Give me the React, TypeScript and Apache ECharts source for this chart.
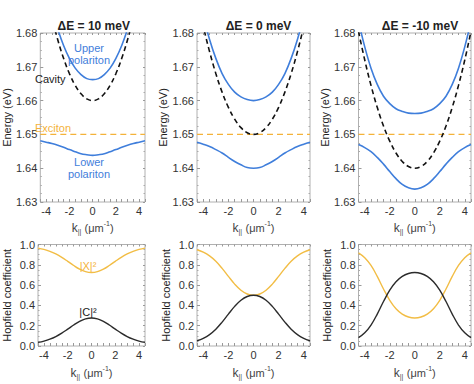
import React, { useEffect, useRef } from 'react';
import * as echarts from 'echarts';

// wavevector k|| (µm^-1)
const kValues = [-4.5, -4, -3.5, -3, -2.5, -2, -1.5, -1, -0.5, 0, 0.5, 1, 1.5, 2, 2.5, 3, 3.5, 4, 4.5];

const panelTitles = ['ΔE = 10 meV', 'ΔE = 0 meV', 'ΔE = -10 meV'];
const excitonEnergy = 1.65;
const xTickLabels = [-4, -2, 0, 2, 4];

// ΔE = 10 meV
const upper10 = [1.7024, 1.6943, 1.6872, 1.6812, 1.6763, 1.6725, 1.6696, 1.6677, 1.6665, 1.6662, 1.6665, 1.6677, 1.6696, 1.6725, 1.6763, 1.6812, 1.6872, 1.6943, 1.7024];
const lower10 = [1.6481, 1.6477, 1.6473, 1.6468, 1.6462, 1.6455, 1.6449, 1.6443, 1.6440, 1.6438, 1.6440, 1.6443, 1.6449, 1.6455, 1.6462, 1.6468, 1.6473, 1.6477, 1.6481];
const cavity10 = [1.7005, 1.692, 1.6845, 1.678, 1.6725, 1.668, 1.6645, 1.662, 1.6605, 1.660, 1.6605, 1.662, 1.6645, 1.668, 1.6725, 1.678, 1.6845, 1.692, 1.7005];
const excitonFrac10 = [0.9649, 0.9514, 0.9326, 0.9069, 0.8737, 0.8345, 0.7935, 0.7572, 0.7324, 0.7236, 0.7324, 0.7572, 0.7935, 0.8345, 0.8737, 0.9069, 0.9326, 0.9514, 0.9649];
const photonFrac10 = [0.0351, 0.0486, 0.0674, 0.0931, 0.1263, 0.1655, 0.2065, 0.2428, 0.2676, 0.2764, 0.2676, 0.2428, 0.2065, 0.1655, 0.1263, 0.0931, 0.0674, 0.0486, 0.0351];

// ΔE = 0 meV
const upper0 = [1.6928, 1.6849, 1.6781, 1.6725, 1.6680, 1.6648, 1.6625, 1.6611, 1.6603, 1.6600, 1.6603, 1.6611, 1.6625, 1.6648, 1.6680, 1.6725, 1.6781, 1.6849, 1.6928];
const lower0 = [1.6477, 1.6471, 1.6464, 1.6455, 1.6445, 1.6432, 1.6420, 1.6410, 1.6402, 1.6400, 1.6402, 1.6410, 1.6420, 1.6432, 1.6445, 1.6455, 1.6464, 1.6471, 1.6477];
const cavity0 = [1.6905, 1.682, 1.6745, 1.668, 1.6625, 1.658, 1.6545, 1.652, 1.6505, 1.650, 1.6505, 1.652, 1.6545, 1.658, 1.6625, 1.668, 1.6745, 1.682, 1.6905];
const excitonFrac0 = [0.9483, 0.9240, 0.8873, 0.8345, 0.7650, 0.6857, 0.6098, 0.5498, 0.5125, 0.5, 0.5125, 0.5498, 0.6098, 0.6857, 0.7650, 0.8345, 0.8873, 0.9240, 0.9483];
const photonFrac0 = [0.0517, 0.0760, 0.1127, 0.1655, 0.2350, 0.3143, 0.3902, 0.4502, 0.4875, 0.5, 0.4875, 0.4502, 0.3902, 0.3143, 0.2350, 0.1655, 0.1127, 0.0760, 0.0517];

// ΔE = -10 meV
const upperM10 = [1.6835, 1.6759, 1.6696, 1.6648, 1.6613, 1.6591, 1.6576, 1.6568, 1.6563, 1.6562, 1.6563, 1.6568, 1.6576, 1.6591, 1.6613, 1.6648, 1.6696, 1.6759, 1.6835];
const lowerM10 = [1.6470, 1.6461, 1.6449, 1.6432, 1.6412, 1.6390, 1.6369, 1.6352, 1.6342, 1.6338, 1.6342, 1.6352, 1.6369, 1.6390, 1.6412, 1.6432, 1.6449, 1.6461, 1.6470];
const cavityM10 = [1.6805, 1.672, 1.6645, 1.658, 1.6525, 1.648, 1.6445, 1.642, 1.6405, 1.640, 1.6405, 1.642, 1.6445, 1.648, 1.6525, 1.658, 1.6645, 1.672, 1.6805];
const excitonFracM10 = [0.9181, 0.8700, 0.7935, 0.6857, 0.5620, 0.4502, 0.3674, 0.3143, 0.2855, 0.2764, 0.2855, 0.3143, 0.3674, 0.4502, 0.5620, 0.6857, 0.7935, 0.8700, 0.9181];
const photonFracM10 = [0.0819, 0.1300, 0.2065, 0.3143, 0.4380, 0.5498, 0.6326, 0.6857, 0.7145, 0.7236, 0.7145, 0.6857, 0.6326, 0.5498, 0.4380, 0.3143, 0.2065, 0.1300, 0.0819];

const upperSets = [upper10, upper0, upperM10];
const lowerSets = [lower10, lower0, lowerM10];
const cavitySets = [cavity10, cavity0, cavityM10];
const excitonFracSets = [excitonFrac10, excitonFrac0, excitonFracM10];
const photonFracSets = [photonFrac10, photonFrac0, photonFracM10];

const FONT = 'Liberation Sans, Arial, sans-serif';
const BLUE = '#3f7edb';
const ORANGE = '#f4b23a';
const HOPF_ORANGE = '#f2bd45';
const DARK = '#2b2b2b';
const FRAME = '#b0b0b0';

const cols = [
  { left: 32.5, width: 112.5 },
  { left: 197, width: 113 },
  { left: 358.5, width: 113 },
];
const rows = [
  { top: 33, height: 169 },
  { top: 244.5, height: 101.5 },
];

function pairs(arr: number[]) {
  return kValues.map((k, i) => [k, arr[i]]);
}

export default function App() {
  const ref = useRef<HTMLDivElement>(null);
  useEffect(() => {
    if (!ref.current) return;
    const chart = echarts.init(ref.current, undefined, { renderer: 'svg' });

    const grid: any[] = [];
    const xAxis: any[] = [];
    const yAxis: any[] = [];
    const series: any[] = [];
    const title: any[] = [];

    const xName = '{k|k}{s|||} {n|(μm}{p|-1}{n|)}';
    const xNameStyle = {
      color: '#444',
      fontFamily: FONT,
      rich: {
        k: { fontSize: 12, fontFamily: FONT, color: '#444' },
        s: { fontSize: 7, fontFamily: FONT, color: '#444', padding: [7, 0, 0, 0] },
        n: { fontSize: 11, fontFamily: FONT, color: '#444' },
        p: { fontSize: 7, fontFamily: FONT, color: '#444', padding: [0, 0, 8, 0] },
      },
    };

    let gi = 0;
    rows.forEach((row, r) => {
      cols.forEach((col, c) => {
        grid.push({
          left: col.left,
          top: row.top,
          width: col.width,
          height: row.height,
          show: true,
          borderColor: FRAME,
          borderWidth: 1,
          backgroundColor: 'transparent',
        });
        const isTop = r === 0;
        const yMin = isTop ? 1.63 : 0;
        const yMax = isTop ? 1.68 : 1;
        const yInt = isTop ? 0.01 : 0.2;
        const tickStyle = { show: true, inside: true, length: 3, lineStyle: { color: '#999', width: 1 } };
        const minorStyle = { show: true, splitNumber: 4, length: 1.5, lineStyle: { color: '#aaa', width: 1 } };
        const noLine = { show: false, onZero: false };
        // bottom x axis
        const xb = xAxis.length;
        xAxis.push({
          type: 'value',
          gridIndex: gi,
          position: 'bottom',
          min: -4.5,
          max: 4.5,
          interval: 0.5,
          axisLine: noLine,
          axisTick: tickStyle,
          splitLine: { show: false },
          axisLabel: {
            interval: 0,
            margin: 3,
            color: '#333',
            fontSize: 11,
            fontFamily: FONT,
            formatter: (v: number) => (xTickLabels.some((t) => Math.abs(t - v) < 1e-6) ? String(Math.round(v)) : ''),
          },
          name: xName,
          nameLocation: 'middle',
          nameGap: isTop ? 18 : 19,
          nameTextStyle: xNameStyle,
        });
        // top x axis (frame ticks)
        xAxis.push({
          type: 'value',
          gridIndex: gi,
          position: 'top',
          min: -4.5,
          max: 4.5,
          interval: 0.5,
          axisLine: noLine,
          axisTick: { ...tickStyle, length: 2 },
          splitLine: { show: false },
          axisLabel: { show: false },
        });
        const yl = yAxis.length;
        yAxis.push({
          type: 'value',
          gridIndex: gi,
          position: 'left',
          min: yMin,
          max: yMax,
          interval: yInt,
          axisLine: noLine,
          axisTick: tickStyle,
          minorTick: minorStyle,
          splitLine: { show: false },
          axisLabel: {
            margin: 3,
            color: '#333',
            fontSize: 11,
            fontFamily: FONT,
            formatter: (v: number) => v.toFixed(isTop ? 2 : 1),
          },
          name: isTop ? 'Energy (eV)' : 'Hopfield coefficient',
          nameLocation: 'middle',
          nameGap: 26,
          nameTextStyle: { color: '#222', fontSize: 11, fontFamily: FONT },
        });
        yAxis.push({
          type: 'value',
          gridIndex: gi,
          position: 'right',
          min: yMin,
          max: yMax,
          interval: yInt,
          axisLine: noLine,
          axisTick: { ...tickStyle, length: 2 },
          minorTick: minorStyle,
          splitLine: { show: false },
          axisLabel: { show: false },
        });

        if (isTop) {
          series.push({
            type: 'line',
            xAxisIndex: xb,
            yAxisIndex: yl,
            data: kValues.map((k) => [k, excitonEnergy]),
            symbol: 'none',
            lineStyle: { color: ORANGE, width: 1.4, type: [6, 4] },
            z: 2,
          });
          series.push({
            type: 'line',
            xAxisIndex: xb,
            yAxisIndex: yl,
            data: pairs(cavitySets[c]),
            symbol: 'none',
            smooth: 0.4,
            lineStyle: { color: '#111', width: 1.6, type: [5, 3.5] },
            z: 3,
          });
          series.push({
            type: 'line',
            xAxisIndex: xb,
            yAxisIndex: yl,
            data: pairs(upperSets[c]),
            symbol: 'none',
            smooth: 0.4,
            lineStyle: { color: BLUE, width: 1.6 },
            z: 4,
          });
          series.push({
            type: 'line',
            xAxisIndex: xb,
            yAxisIndex: yl,
            data: pairs(lowerSets[c]),
            symbol: 'none',
            smooth: 0.4,
            lineStyle: { color: BLUE, width: 1.6 },
            z: 4,
          });
          title.push({
            text: panelTitles[c],
            left: col.left + col.width / 2,
            top: 15,
            textAlign: 'center',
            textStyle: { fontSize: 12, fontWeight: 'bold', color: '#222', fontFamily: FONT },
          });
        } else {
          series.push({
            type: 'line',
            xAxisIndex: xb,
            yAxisIndex: yl,
            data: pairs(excitonFracSets[c]),
            symbol: 'none',
            smooth: 0.4,
            lineStyle: { color: HOPF_ORANGE, width: 1.4 },
          });
          series.push({
            type: 'line',
            xAxisIndex: xb,
            yAxisIndex: yl,
            data: pairs(photonFracSets[c]),
            symbol: 'none',
            smooth: 0.4,
            lineStyle: { color: DARK, width: 1.4 },
          });
        }
        gi++;
      });
    });

    const label = (text: string, x: number, y: number, fill: string, align = 'center') => ({
      type: 'text',
      x,
      y,
      z: 10,
      style: { text, fill, fontSize: 11, fontFamily: FONT, textAlign: align, textVerticalAlign: 'middle' },
    });

    const graphic = [
      label('Upper', 89, 48, BLUE),
      label('polariton', 89, 60, BLUE),
      label('Cavity', 35, 79, '#222', 'left'),
      label('Exciton', 35, 128, ORANGE, 'left'),
      label('Lower', 89, 162, BLUE),
      label('polariton', 89, 174, BLUE),
      label('|X|²', 88, 266, ORANGE),
      label('|C|²', 88, 312, '#222'),
    ];

    chart.setOption({
      animation: false,
      backgroundColor: '#fff',
      title,
      grid,
      xAxis,
      yAxis,
      series,
      graphic,
    });
    return () => chart.dispose();
  }, []);

  return <div ref={ref} style={{ width: 474, height: 384, position: 'absolute', left: 0, top: 0 }} />;
}
